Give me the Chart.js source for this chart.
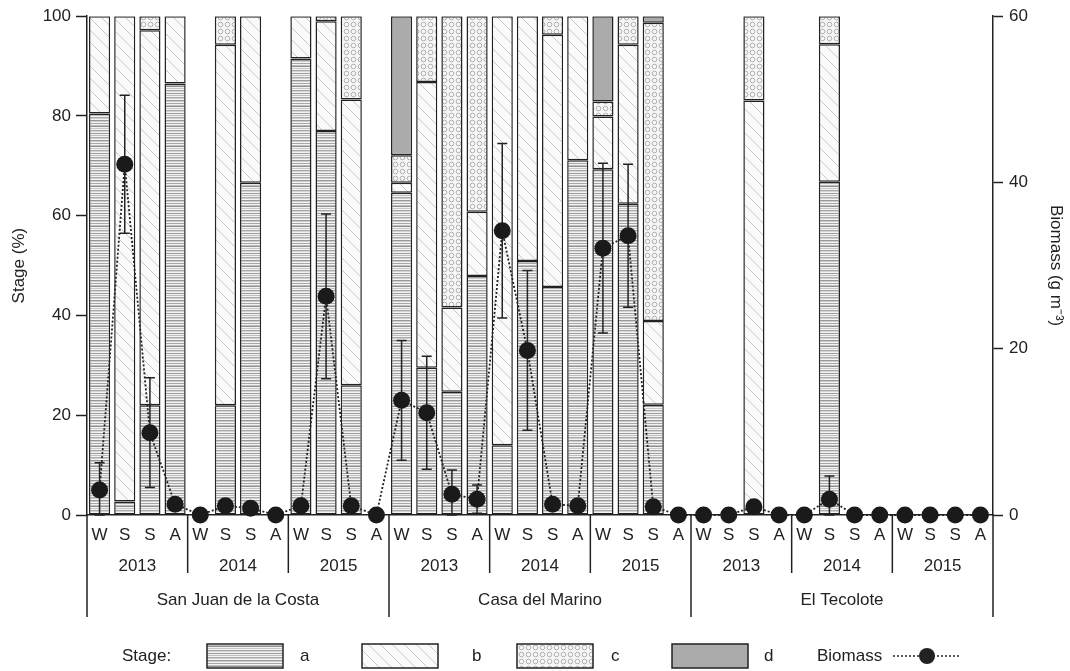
<!DOCTYPE html>
<html>
<head>
<meta charset="utf-8">
<script src="https://cdn.jsdelivr.net/npm/chart.js@4.4.1/dist/chart.umd.min.js"></script>
<style>
  html, body { margin: 0; padding: 0; background: #fff; }
  canvas { display: block; }
</style>
</head>
<body>
<canvas id="chart" width="1070" height="671"></canvas>
<script>
// categories
const seasons = [
  'W', 'S', 'S', 'A', 'W', 'S', 'S', 'A', 'W', 'S', 'S', 'A',
  'W', 'S', 'S', 'A', 'W', 'S', 'S', 'A', 'W', 'S', 'S', 'A',
  'W', 'S', 'S', 'A', 'W', 'S', 'S', 'A', 'W', 'S', 'S', 'A'
];
const years = ['2013', '2014', '2015'];
const sites = ['San Juan de la Costa', 'Casa del Marino', 'El Tecolote'];

// stage composition (%)
const stageA = [
  80.5, 2.7, 22.0, 86.5, 0, 22.0, 66.6, 0, 91.5, 77.0, 26.0, 0,
  64.6, 29.5, 24.7, 47.9, 14.0, 50.9, 45.7, 71.1, 69.3, 62.4, 22.1, 0,
  0, 0, 0, 0, 0, 66.8, 0, 0, 0, 0, 0, 0
];
const stageB = [
  19.5, 97.3, 75.2, 13.5, 0, 72.3, 33.4, 0, 8.5, 22.0, 57.3, 0,
  2.0, 57.3, 16.9, 12.9, 86.0, 49.1, 50.6, 28.9, 10.6, 31.9, 16.8, 0,
  0, 0, 83.1, 0, 0, 27.6, 0, 0, 0, 0, 0, 0
];
const stageC = [
  0, 0, 2.8, 0, 0, 5.7, 0, 0, 0, 1.0, 16.7, 0,
  5.5, 13.2, 58.4, 39.2, 0, 0, 3.7, 0, 3.0, 5.7, 59.8, 0,
  0, 0, 16.9, 0, 0, 5.6, 0, 0, 0, 0, 0, 0
];
const stageD = [
  0, 0, 0, 0, 0, 0, 0, 0, 0, 0, 0, 0,
  27.9, 0, 0, 0, 0, 0, 0, 0, 17.1, 0, 1.3, 0,
  0, 0, 0, 0, 0, 0, 0, 0, 0, 0, 0, 0
];

// biomass (g m-3) and its error
const biomass = [
  3.0, 42.2, 9.9, 1.3, 0, 1.1, 0.8, 0, 1.1, 26.3, 1.1, 0,
  13.8, 12.3, 2.5, 1.9, 34.2, 19.8, 1.3, 1.1, 32.1, 33.6, 1.0, 0,
  0, 0, 1.0, 0, 0, 1.9, 0, 0, 0, 0, 0, 0
];
const biomassErr = [
  3.3, 8.3, 6.6, 0, 0, 0, 0, 0, 0, 9.9, 0, 0,
  7.2, 6.8, 2.9, 1.7, 10.5, 9.6, 0, 0, 10.2, 8.6, 0, 0,
  0, 0, 0, 0, 0, 2.8, 0, 0, 0, 0, 0, 0
];

const FONT = 'Liberation Sans, Arial, sans-serif';
const INK = '#222';

const ctx = document.getElementById('chart').getContext('2d');

function makePattern(w, h, draw) {
  const c = document.createElement('canvas');
  c.width = w;
  c.height = h;
  draw(c.getContext('2d'), w, h);
  return ctx.createPattern(c, 'repeat');
}

// a: horizontal lines
const patA = makePattern(8, 20, (g, w, h) => {
  g.fillStyle = '#f4f4f4';
  g.fillRect(0, 0, w, h);
  const rows = [[0, '#999'], [1, '#ccc'], [3, '#a6a6a6'], [5, '#bdbdbd'], [6, '#909090'],
    [8, '#c8c8c8'], [10, '#a8a8a8'], [11, '#d4d4d4'], [13, '#9a9a9a'], [15, '#bebebe'],
    [17, '#aaaaaa'], [18, '#cecece']];
  rows.forEach(([y, c]) => { g.fillStyle = c; g.fillRect(0, y, w, 1); });
});
// b: faint diagonals
const patB = makePattern(12, 12, (g, w, h) => {
  g.fillStyle = '#fafafa';
  g.fillRect(0, 0, w, h);
  g.strokeStyle = '#c8c8c8';
  g.lineWidth = 1;
  g.beginPath();
  g.moveTo(0, 0); g.lineTo(w, h);
  g.stroke();
});
// c: small rings
const patC = makePattern(7, 7, (g, w, h) => {
  g.fillStyle = '#f6f6f6';
  g.fillRect(0, 0, w, h);
  g.strokeStyle = '#b0b0b0';
  g.lineWidth = 1;
  g.beginPath();
  g.arc(3.5, 3.5, 2.3, 0, Math.PI * 2);
  g.stroke();
});
const fillD = '#ababab';

const nz = arr => arr.map(v => (v > 0 ? v : null));

function barSet(label, data, bg) {
  return {
    type: 'bar',
    label: label,
    data: nz(data),
    backgroundColor: bg,
    borderColor: INK,
    borderWidth: 1.5,
    borderSkipped: false,
    barPercentage: 0.84,
    categoryPercentage: 1,
    yAxisID: 'y',
    order: 1
  };
}

const groupLabels = {
  id: 'groupLabels',
  beforeDatasetDraw(chart, args) {
    // error bars under the biomass points
    if (args.index !== 4) return;
    const x = chart.scales.x, y2 = chart.scales.y2;
    const c = chart.ctx;
    c.save();
    c.strokeStyle = INK;
    c.lineWidth = 1.5;
    biomass.forEach((v, i) => {
      const e = biomassErr[i];
      if (!e) return;
      const px = x.getPixelForValue(i);
      const top = y2.getPixelForValue(v + e);
      const bot = y2.getPixelForValue(Math.max(0, v - e));
      c.beginPath();
      c.moveTo(px, top); c.lineTo(px, bot);
      c.moveTo(px - 5, top); c.lineTo(px + 5, top);
      c.moveTo(px - 5, bot); c.lineTo(px + 5, bot);
      c.stroke();
    });
    c.restore();
  },
  afterDraw(chart) {
    const c = chart.ctx;
    const x = chart.scales.x;
    const base = chart.chartArea.bottom;
    const step = (x.right - x.left) / seasons.length;
    c.save();
    c.strokeStyle = INK;
    c.lineWidth = 1.5;
    c.fillStyle = INK;
    c.font = '17px ' + FONT;
    c.textAlign = 'center';
    c.textBaseline = 'middle';
    for (let i = 0; i <= seasons.length; i += 4) {
      const px = x.left + i * step;
      const isSite = i % 12 === 0;
      c.beginPath();
      c.moveTo(px, base);
      c.lineTo(px, isSite ? 617 : 573);
      c.stroke();
    }
    for (let s = 0; s < sites.length; s++) {
      for (let yv = 0; yv < years.length; yv++) {
        const i0 = s * 12 + yv * 4;
        c.fillText(years[yv], x.left + (i0 + 2) * step, 566);
      }
      c.fillText(sites[s], x.left + (s * 12 + 6) * step, 600);
    }

    // legend
    const ly = 656;
    c.textAlign = 'left';
    c.fillText('Stage:', 122, ly);
    const items = [[207, patA, 'a', 300], [362, patB, 'b', 472], [517, patC, 'c', 611], [672, fillD, 'd', 764]];
    items.forEach(([bx, fill, lab, tx]) => {
      c.fillStyle = fill;
      c.fillRect(bx, 644, 76, 24);
      c.strokeRect(bx, 644, 76, 24);
      c.fillStyle = INK;
      c.fillText(lab, tx, ly);
    });
    c.fillText('Biomass', 817, ly);
    c.setLineDash([2, 2]);
    c.beginPath();
    c.moveTo(893, ly); c.lineTo(959, ly);
    c.stroke();
    c.setLineDash([]);
    c.beginPath();
    c.arc(927, ly, 8, 0, Math.PI * 2);
    c.fill();
    c.restore();
  }
};

new Chart(ctx, {
  type: 'bar',
  data: {
    labels: seasons,
    datasets: [
      barSet('a', stageA, patA),
      barSet('b', stageB, patB),
      barSet('c', stageC, patC),
      barSet('d', stageD, fillD),
      {
        type: 'line',
        label: 'Biomass',
        data: biomass,
        yAxisID: 'y2',
        borderColor: INK,
        borderWidth: 1.8,
        borderDash: [2, 2],
        pointRadius: 8.5,
        pointBackgroundColor: '#1a1a1a',
        pointBorderColor: '#1a1a1a',
        pointBorderWidth: 0,
        tension: 0,
        clip: false,
        order: 0
      }
    ]
  },
  options: {
    responsive: false,
    animation: false,
    devicePixelRatio: 1,
    layout: { padding: { top: 15, left: 0, right: 0, bottom: 0 } },
    plugins: {
      legend: { display: false },
      tooltip: { enabled: false }
    },
    scales: {
      x: {
        stacked: true,
        grid: { display: false, drawTicks: false },
        border: { color: INK, width: 1.5 },
        ticks: { color: INK, font: { family: FONT, size: 17 }, padding: 10, maxRotation: 0, autoSkip: false },
        afterFit: s => { s.height = 156; }
      },
      y: {
        position: 'left',
        stacked: true,
        min: 0,
        max: 100,
        ticks: { stepSize: 20, color: INK, font: { family: FONT, size: 17 }, padding: 5 },
        grid: { drawOnChartArea: false, tickLength: 11, tickColor: INK, tickWidth: 1.5 },
        border: { color: INK, width: 1.5 },
        title: { display: true, text: 'Stage (%)', color: INK, font: { family: FONT, size: 17 }, padding: { top: 9, bottom: 0 } },
        afterFit: s => { s.width = 87; }
      },
      y2: {
        position: 'right',
        min: 0,
        max: 60,
        ticks: { stepSize: 20, color: INK, font: { family: FONT, size: 17 }, padding: 6 },
        grid: { drawOnChartArea: false, tickLength: 10, tickColor: INK, tickWidth: 1.5 },
        border: { color: INK, width: 1.5 },
        title: { display: true, text: 'Biomass (g m\u207B\u00B3)', color: INK, font: { family: FONT, size: 17 }, padding: { top: 4, bottom: 0 } },
        afterFit: s => { s.width = 77; }
      }
    }
  },
  plugins: [groupLabels]
});
</script>
</body>
</html>
